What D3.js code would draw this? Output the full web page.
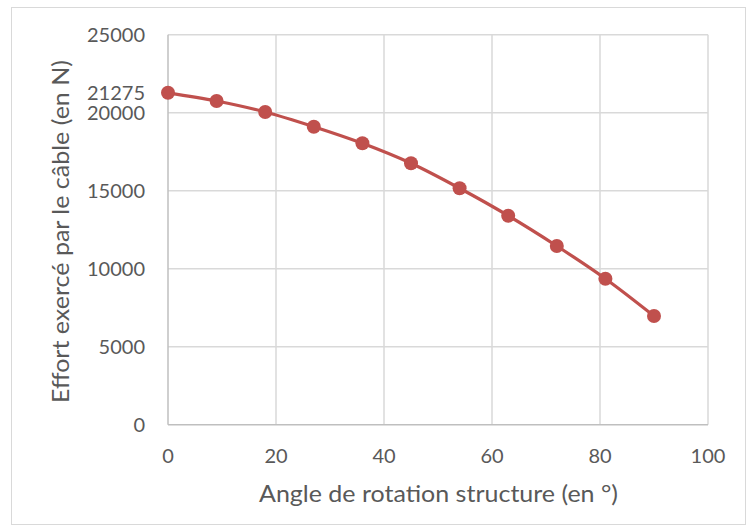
<!DOCTYPE html>
<html><head><meta charset="utf-8">
<script src="https://cdn.jsdelivr.net/npm/d3@7"></script>
<style>body{margin:0;background:#fff;} text{font-family:Lato, "Open Sans", sans-serif;fill:#595959;}</style>
</head><body>
<svg id="c" width="749" height="528"></svg>
<script>
const angles = [0, 9, 18, 27, 36, 45, 54, 63, 72, 81, 90];
const efforts = [21275, 20750, 20045, 19103, 18038, 16756, 15154, 13397, 11455, 9359, 6968];
const xTicks = [0, 20, 40, 60, 80, 100];
const yTicks = [0, 5000, 10000, 15000, 20000, 21275, 25000];
const yGrid = [0, 5000, 10000, 15000, 20000, 25000];
const xTitle = "Angle de rotation structure (en °)";
const yTitle = "Effort exercé par le câble (en N)";

const svg = d3.select("#c");
svg.append("rect").attr("x", 11.5).attr("y", 7.5).attr("width", 734).attr("height", 517)
  .attr("fill", "#fff").attr("stroke", "#d9d9d9");

const L = 168, R = 708, T = 34.7, B = 424.7;
const x = d3.scaleLinear().domain([0, 100]).range([L, R]);
const y = d3.scaleLinear().domain([0, 25000]).range([B, T]);

// gridlines
svg.append("g").selectAll("line").data(yGrid.filter(d => d > 0)).join("line")
  .attr("x1", L).attr("x2", R).attr("y1", d => y(d)).attr("y2", d => y(d))
  .attr("stroke", "#d9d9d9").attr("stroke-width", 1.5);
svg.append("g").selectAll("line").data(xTicks.filter(d => d > 0)).join("line")
  .attr("y1", T).attr("y2", B).attr("x1", d => x(d)).attr("x2", d => x(d))
  .attr("stroke", "#d9d9d9").attr("stroke-width", 1.5);
// axis lines
svg.append("line").attr("x1", L).attr("x2", L).attr("y1", T).attr("y2", B)
  .attr("stroke", "#bfbfbf").attr("stroke-width", 1.5);
svg.append("line").attr("x1", L).attr("x2", R).attr("y1", B).attr("y2", B)
  .attr("stroke", "#bfbfbf").attr("stroke-width", 1.5);

// tick labels
svg.append("g").selectAll("text").data(yTicks).join("text")
  .attr("x", 145).attr("y", d => y(d)).attr("dy", "0.36em").attr("text-anchor", "end")
  .attr("font-size", 20).text(d => d);
svg.append("g").selectAll("text").data(xTicks).join("text")
  .attr("x", d => x(d)).attr("y", 462.5).attr("text-anchor", "middle")
  .attr("font-size", 20).text(d => d);

// titles
svg.append("text").attr("x", 438.5).attr("y", 502).attr("text-anchor", "middle")
  .attr("font-size", 23).attr("textLength", 359).attr("lengthAdjust", "spacingAndGlyphs").text(xTitle);
svg.append("text").attr("transform", "translate(69,231.5) rotate(-90)")
  .attr("text-anchor", "middle").attr("font-size", 23)
  .attr("textLength", 343).attr("lengthAdjust", "spacingAndGlyphs").text(yTitle);

// series
const data = angles.map((a, i) => ({a, v: efforts[i]}));
svg.append("path").datum(data)
  .attr("d", d3.line().x(d => x(d.a)).y(d => y(d.v)).curve(d3.curveMonotoneX))
  .attr("fill", "none").attr("stroke", "#c0504d").attr("stroke-width", 3.25).attr("stroke-linejoin", "round");
svg.append("g").selectAll("circle").data(data).join("circle")
  .attr("cx", d => x(d.a)).attr("cy", d => y(d.v)).attr("r", 7).attr("fill", "#c0504d");
</script>
</body></html>
